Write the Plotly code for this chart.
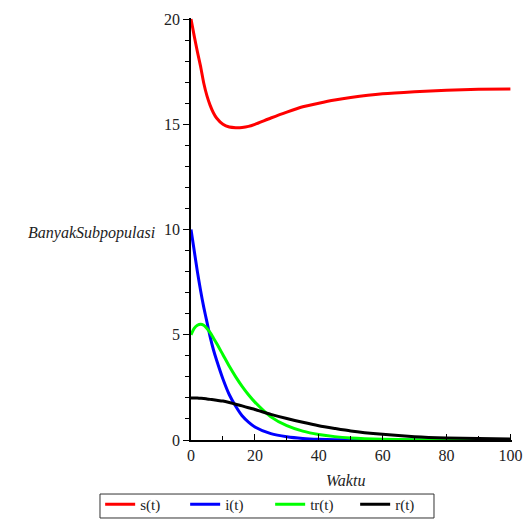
import plotly.graph_objects as go

t = [0, 1, 2, 3, 4, 5, 6, 7, 8, 10, 12, 14, 16, 18, 20, 25, 30, 35, 40, 45, 50, 60, 70, 80, 90, 100]
s_vals = [20.0, 19.2, 18.45, 17.75, 16.95, 16.35, 15.9, 15.55, 15.3, 15.0, 14.87, 14.84, 14.85, 14.9, 15.0,
          15.3, 15.58, 15.83, 16.0, 16.15, 16.27, 16.45, 16.55, 16.62, 16.66, 16.68]
i_vals = [10.0, 9.0, 8.0, 7.1, 6.3, 5.6, 4.9, 4.3, 3.8, 2.9, 2.15, 1.6, 1.15, 0.85, 0.62,
          0.3, 0.15, 0.07, 0.03, 0.015, 0.008, 0.002, 0.0, 0.0, 0.0, 0.0]
tr_vals = [5.0, 5.3, 5.45, 5.5, 5.45, 5.3, 5.1, 4.85, 4.6, 4.05, 3.5, 3.0, 2.55, 2.15, 1.8,
           1.1, 0.68, 0.42, 0.26, 0.16, 0.1, 0.04, 0.015, 0.005, 0.0, 0.0]
r_vals = [2.0, 2.0, 1.99, 1.98, 1.97, 1.95, 1.93, 1.91, 1.89, 1.85, 1.78, 1.7, 1.62, 1.53, 1.45,
          1.22, 1.02, 0.84, 0.68, 0.55, 0.43, 0.27, 0.16, 0.1, 0.07, 0.05]

series = [("s(t)", s_vals, "#ff0000"), ("i(t)", i_vals, "#0000ff"),
          ("tr(t)", tr_vals, "#00ff00"), ("r(t)", r_vals, "#000000")]

fig = go.Figure()
for name, vals, col in series:
    fig.add_trace(go.Scatter(x=t, y=vals, mode="lines", name=name,
                             line=dict(color=col, width=3, shape="spline", smoothing=0.6)))

font_family = "Liberation Serif"
fig.update_layout(
    width=527, height=519,
    margin=dict(l=191, r=15, t=18, b=79, autoexpand=False),
    plot_bgcolor="white", paper_bgcolor="white",
    font=dict(family=font_family, size=16, color="#222"),
    showlegend=True,
    legend=dict(orientation="h", x=-0.283, y=-0.1137, xanchor="left", yanchor="top",
                borderwidth=0, bgcolor="rgba(0,0,0,0)", font=dict(size=15, family=font_family),
                tracegroupgap=0, entrywidth=40, entrywidthmode="pixels"),
)
# legend frame
fig.add_shape(type="rect", xref="paper", yref="paper",
              x0=-0.2835, x1=0.757, y0=-0.1848, y1=-0.128,
              line=dict(color="#333", width=1), fillcolor="rgba(0,0,0,0)", layer="below")

fig.update_xaxes(range=[0, 100.5], tickmode="linear", tick0=0, dtick=20,
                 showgrid=False, zeroline=False, showline=True, linecolor="black", linewidth=1.5,
                 ticks="inside", ticklen=6, tickcolor="black",
                 minor=dict(dtick=10, ticks="inside", ticklen=4, tickcolor="black"))
fig.update_yaxes(range=[0, 20.05], tickmode="linear", tick0=0, dtick=5,
                 showgrid=False, zeroline=False, showline=True, linecolor="black", linewidth=1.5,
                 ticks="outside", ticklen=6, tickcolor="black",
                 minor=dict(dtick=1, ticks="outside", ticklen=4, tickcolor="black"))

fig.add_annotation(text="<i>BanyakSubpopulasi</i>", xref="paper", yref="paper",
                   x=-0.106, y=0.49, xanchor="right", yanchor="middle", showarrow=False,
                   font=dict(size=16, family=font_family, color="#222"))
fig.add_annotation(text="<i>Waktu</i>", xref="paper", yref="paper",
                   x=0.48, y=-0.097, xanchor="center", yanchor="middle", showarrow=False,
                   font=dict(size=16, family=font_family, color="#222"))

fig.write_html("out.html", config={"displayModeBar": False},
               post_script="document.body.style.margin='0';document.body.style.overflow='hidden';")
